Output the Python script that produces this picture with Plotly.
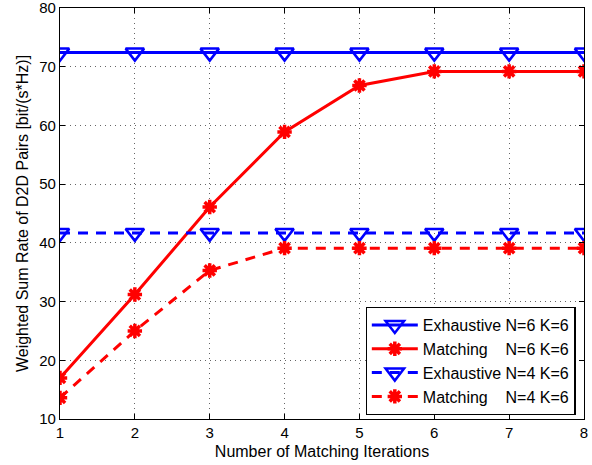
import plotly.graph_objects as go

iterations = [1, 2, 3, 4, 5, 6, 7, 8]
exh_n6 = [72.4, 72.4, 72.4, 72.4, 72.4, 72.4, 72.4, 72.4]
match_n6 = [17.0, 31.2, 46.1, 58.9, 66.8, 69.2, 69.2, 69.2]
exh_n4 = [41.7, 41.7, 41.7, 41.7, 41.7, 41.7, 41.7, 41.7]
match_n4 = [13.6, 25.0, 35.3, 39.1, 39.1, 39.1, 39.1, 39.1]
names = ["Exhaustive N=6 K=6", "Matching    N=6 K=6", "Exhaustive N=4 K=6", "Matching    N=4 K=6"]
x_ticks = [1, 2, 3, 4, 5, 6, 7, 8]
y_ticks = [10, 20, 30, 40, 50, 60, 70, 80]

BLUE = "#0000ff"
RED = "#ff0000"
DASH = "10px,8px"
FONT = "Liberation Sans, Arial"

fig = go.Figure()
fig.add_trace(go.Scatter(x=iterations, y=exh_n6, name=names[0], mode="lines+markers",
                         line=dict(color=BLUE, width=3),
                         marker=dict(symbol="triangle-down-open", size=16, color=BLUE, line=dict(width=2.5, color=BLUE))))
fig.add_trace(go.Scatter(x=iterations, y=match_n6, name=names[1], mode="lines+markers",
                         line=dict(color=RED, width=3),
                         marker=dict(symbol="asterisk-open", size=12, color=RED, line=dict(width=3.5, color=RED))))
fig.add_trace(go.Scatter(x=iterations, y=exh_n4, name=names[2], mode="lines+markers",
                         line=dict(color=BLUE, width=3, dash=DASH),
                         marker=dict(symbol="triangle-down-open", size=16, color=BLUE, line=dict(width=2.5, color=BLUE))))
fig.add_trace(go.Scatter(x=iterations, y=match_n4, name=names[3], mode="lines+markers",
                         line=dict(color=RED, width=3, dash=DASH),
                         marker=dict(symbol="asterisk-open", size=12, color=RED, line=dict(width=3.5, color=RED))))

axis_common = dict(
    showline=True, linecolor="black", linewidth=1.2, mirror="allticks",
    ticks="inside", ticklen=5, tickcolor="black",
    showgrid=True, gridcolor="#666666", griddash="1px,4px", gridwidth=1,
    zeroline=False, ticklabeloverflow="allow", automargin=False,
    tickfont=dict(family=FONT, size=15, color="black"),
)
fig.update_xaxes(range=[1, 8], tickvals=x_ticks, ticktext=[str(v) for v in x_ticks],
                 title=dict(text="Number of Matching Iterations", font=dict(family=FONT, size=16, color="black"), standoff=5),
                 **axis_common)
fig.update_yaxes(range=[10, 80], tickvals=y_ticks, ticktext=[str(v) for v in y_ticks],
                 title=dict(text="Weighted Sum Rate of D2D Pairs [bit/(s*Hz)]", font=dict(family=FONT, size=16, color="black"), standoff=6),
                 **axis_common)

fig.update_layout(
    width=592, height=465,
    margin=dict(l=60, r=8, t=8, b=46, autoexpand=False),
    paper_bgcolor="white", plot_bgcolor="white",
    showlegend=True,
    legend=dict(x=0.984, y=0.01, xanchor="right", yanchor="bottom",
                bgcolor="white", bordercolor="black", borderwidth=1.2,
                font=dict(family=FONT, size=16, color="black"),
                itemwidth=46, tracegroupgap=0, traceorder="normal"),
)

fig.write_html("out.html", config={"displayModeBar": False},
               post_script="document.body.style.margin='0';")
